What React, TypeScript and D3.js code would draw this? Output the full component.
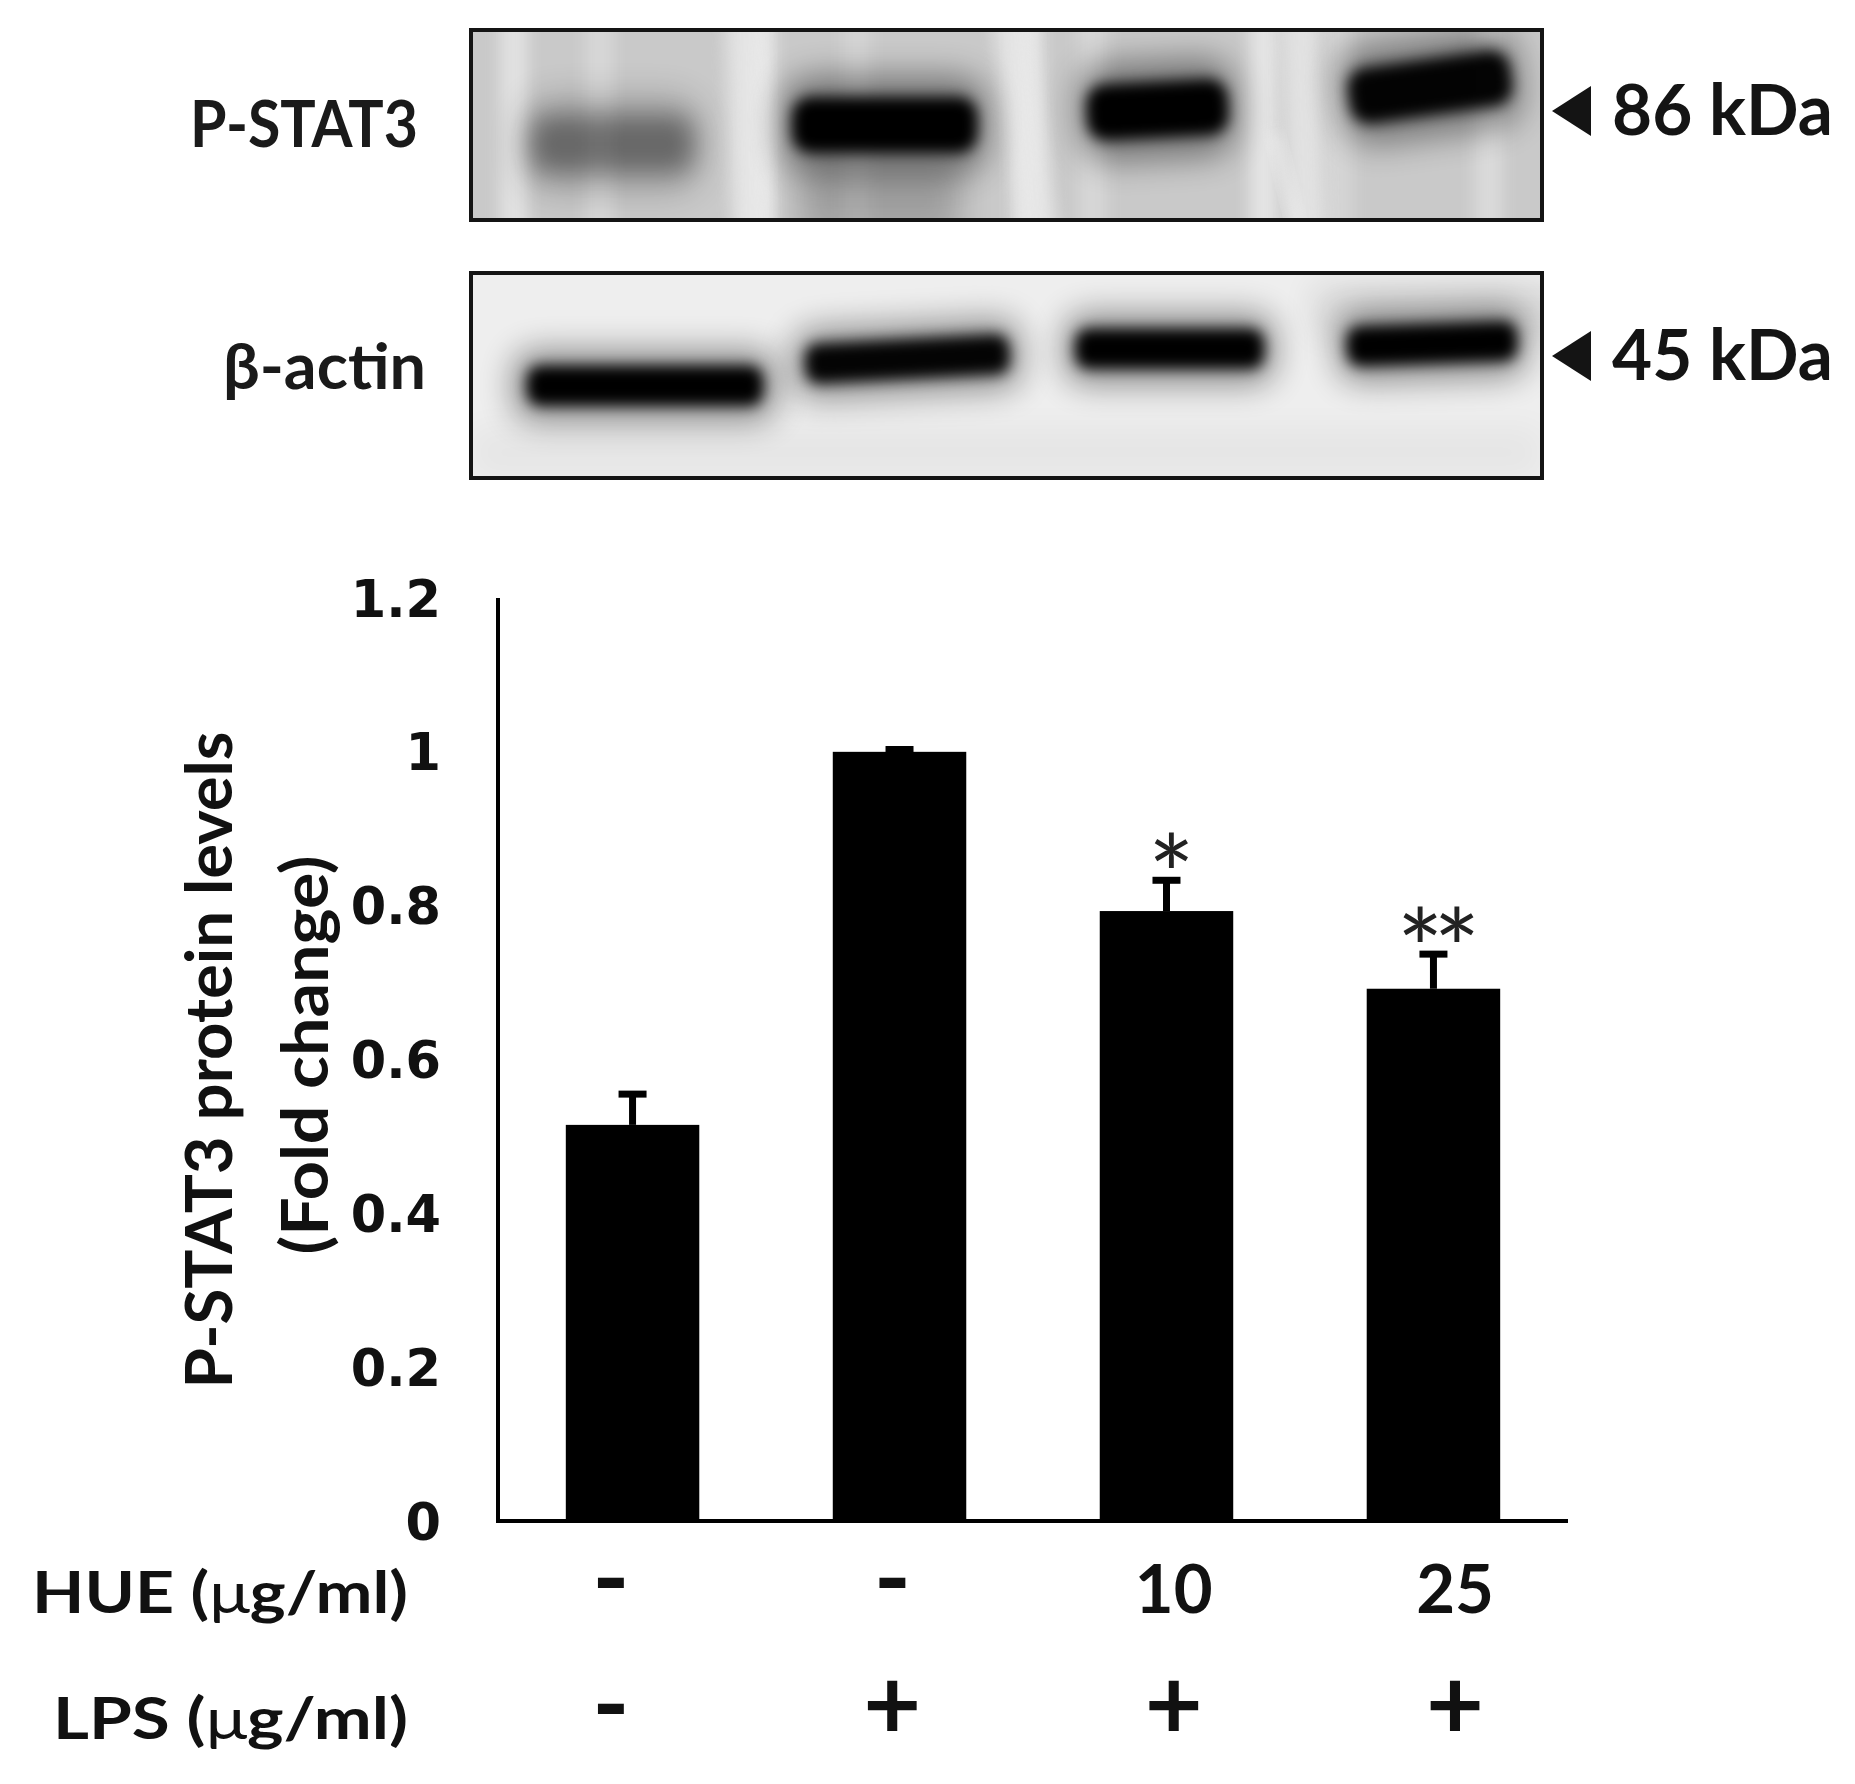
import { useRef, useEffect } from 'react';
import * as d3 from 'd3';

const WIDTH = 1855;
const HEIGHT = 1784;

// Treatment groups, one blot lane / one bar each
const groups = ['control', 'lps', 'hue10', 'hue25'];
const hueLabels = ['-', '-', '10', '25'];
const lpsLabels = ['-', '+', '+', '+'];

// Densitometry of P-STAT3 (fold change vs LPS alone)
const pstat3Levels = [0.515, 1.0, 0.793, 0.692];
const pstat3Errors = [0.04, 0.003, 0.04, 0.045];
const significance = ['', '', '*', '**'];
const yTicks = [0, 0.2, 0.4, 0.6, 0.8, 1, 1.2];

// Blot bands: darkness (0-1), migration (fraction of strip height),
// spread (fraction of lane step) and tilt in degrees
const pstat3Darkness = [0.45, 1, 1, 0.97];
const pstat3Migration = [0.6, 0.5, 0.42, 0.3];
const pstat3Spread = [0.6, 0.68, 0.52, 0.6];
const pstat3Tilt = [0, 0, -3, -8];
const actinDarkness = [1, 0.97, 1, 1];
const actinMigration = [0.55, 0.42, 0.37, 0.345];
const actinSpread = [0.9, 0.78, 0.72, 0.65];
const actinTilt = [0, -3, 0, -2];

// faint vertical streaks in the P-STAT3 membrane (fraction of strip width)
const streakPos = [0.04, 0.12, 0.27, 0.36, 0.52, 0.58, 0.74, 0.81, 0.95];
const streakTone = [0.7, 0.4, 0.9, 0.3, 0.85, 0.4, 0.8, 0.35, 0.5];

export default function App() {
  const svgRef = useRef<SVGSVGElement>(null);

  useEffect(() => {
    if (!svgRef.current) return;
    const svg = d3.select(svgRef.current);
    svg.selectAll('*').remove();
    const defs = svg.append('defs');

    const blurs: [string, number][] = [
      ['blur-band', 7],
      ['blur-faint', 12],
      ['blur-soft', 16],
      ['blur-streak', 8],
    ];
    blurs.forEach(([id, sd]) => {
      defs.append('filter')
        .attr('id', id)
        .attr('x', '-50%').attr('y', '-50%')
        .attr('width', '200%').attr('height', '200%')
        .append('feGaussianBlur')
        .attr('stdDeviation', sd);
    });

    const labelFont = 'Lato, "Open Sans", sans-serif';
    const blotX0 = 471;
    const blotX1 = 1542;

    // ---- blot strip helper ----
    const drawStrip = (
      id: string,
      y0: number,
      y1: number,
      laneRange: [number, number],
      darkness: number[],
      migration: number[],
      spread: number[],
      tilt: number[],
      bandH: number,
      background: string,
      decorate: (g: d3.Selection<SVGGElement, unknown, null, undefined>, lane: d3.ScalePoint<string>, ry: d3.ScaleLinear<number, number>) => void,
    ) => {
      const lane = d3.scalePoint<string>().domain(groups).range(laneRange);
      const step = lane.step();
      const ry = d3.scaleLinear().domain([0, 1]).range([y0, y1]);

      defs.append('clipPath')
        .attr('id', `clip-${id}`)
        .append('rect')
        .attr('x', blotX0).attr('y', y0)
        .attr('width', blotX1 - blotX0).attr('height', y1 - y0);

      const g = svg.append('g').attr('clip-path', `url(#clip-${id})`);
      g.append('rect')
        .attr('x', blotX0).attr('y', y0)
        .attr('width', blotX1 - blotX0).attr('height', y1 - y0)
        .attr('fill', background);

      decorate(g, lane, ry);

      groups.forEach((key, i) => {
        const cx = lane(key) ?? 0;
        const cy = ry(migration[i]);
        const w = spread[i] * step;
        const faint = darkness[i] < 0.6;
        const band = g.append('g').attr('transform', `rotate(${tilt[i]}, ${cx}, ${cy})`);
        band.append('rect')
          .attr('x', cx - w * 0.56).attr('y', cy - bandH * 0.9)
          .attr('width', w * 1.12).attr('height', bandH * 1.8)
          .attr('rx', bandH * 0.6)
          .attr('fill', '#000')
          .attr('opacity', darkness[i] * 0.4)
          .attr('filter', 'url(#blur-soft)');
        band.append('rect')
          .attr('x', cx - w / 2).attr('y', cy - bandH / 2)
          .attr('width', w).attr('height', bandH)
          .attr('rx', bandH * 0.35)
          .attr('fill', '#000')
          .attr('opacity', faint ? darkness[i] * 0.8 : darkness[i])
          .attr('filter', faint ? 'url(#blur-faint)' : 'url(#blur-band)');
      });

      svg.append('rect')
        .attr('x', blotX0).attr('y', y0)
        .attr('width', blotX1 - blotX0).attr('height', y1 - y0)
        .attr('fill', 'none')
        .attr('stroke', '#141414')
        .attr('stroke-width', 4);
    };

    // P-STAT3 strip
    drawStrip('pstat3', 30, 220, [612, 1430], pstat3Darkness, pstat3Migration, pstat3Spread, pstat3Tilt, 56, '#c9c9c9',
      (g, lane, ry) => {
        const sx = d3.scaleLinear().domain([0, 1]).range([blotX0, blotX1]);
        streakPos.forEach((p, i) => {
          g.append('rect')
            .attr('x', sx(p) - 14).attr('y', ry(-0.1))
            .attr('width', 28).attr('height', ry(1.2) - ry(-0.1))
            .attr('fill', '#ececec')
            .attr('opacity', streakTone[i])
            .attr('filter', 'url(#blur-streak)');
        });
        const gaps = d3.pairs(groups.map(k => lane(k) ?? 0)).map(([a, b]) => (a + b) / 2);
        gaps.forEach((gx, i) => {
          g.append('rect')
            .attr('x', gx - 20 + i * 6).attr('y', ry(-0.1))
            .attr('width', 36).attr('height', ry(1.2) - ry(-0.1))
            .attr('fill', '#e8e8e8')
            .attr('opacity', 0.8)
            .attr('transform', `rotate(${i === 1 ? -8 : -2}, ${gx}, ${ry(0.5)})`)
            .attr('filter', 'url(#blur-streak)');
        });
        // smear under the LPS lane
        const c2 = lane('lps') ?? 0;
        g.append('rect')
          .attr('x', c2 - 85).attr('y', ry(0.68))
          .attr('width', 160).attr('height', ry(1.1) - ry(0.68))
          .attr('fill', '#000').attr('opacity', 0.2)
          .attr('filter', 'url(#blur-soft)');
        const c4 = lane('hue25') ?? 0;
        g.append('rect')
          .attr('x', c4 - 150).attr('y', ry(0.55))
          .attr('width', 12).attr('height', ry(1.1) - ry(0.55))
          .attr('fill', '#efefef').attr('opacity', 0.7)
          .attr('transform', `rotate(-14, ${c4 - 150}, ${ry(0.8)})`)
          .attr('filter', 'url(#blur-band)');
      });

    // beta-actin strip
    drawStrip('actin', 273, 478, [645, 1432], actinDarkness, actinMigration, actinSpread, actinTilt, 40, '#eeeeee',
      (g, lane, ry) => {
        const c4 = lane('hue25') ?? 0;
        g.append('rect')
          .attr('x', c4 - 120).attr('y', ry(0.05))
          .attr('width', 260).attr('height', ry(0.3) - ry(0.05))
          .attr('fill', '#000').attr('opacity', 0.08)
          .attr('filter', 'url(#blur-soft)');
        g.append('rect')
          .attr('x', blotX0).attr('y', ry(0.75))
          .attr('width', blotX1 - blotX0).attr('height', ry(1) - ry(0.75))
          .attr('fill', '#000').attr('opacity', 0.03)
          .attr('filter', 'url(#blur-soft)');
      });

    // strip labels and size markers
    svg.append('text')
      .attr('x', 190).attr('y', 147)
      .attr('font-family', labelFont).attr('font-weight', 700)
      .attr('font-size', 65).attr('fill', '#1a1a1a')
      .attr('textLength', 228).attr('lengthAdjust', 'spacingAndGlyphs')
      .text('P-STAT3');
    svg.append('text')
      .attr('x', 223).attr('y', 389)
      .attr('font-family', labelFont).attr('font-weight', 700)
      .attr('font-size', 64).attr('fill', '#1a1a1a')
      .attr('textLength', 203).attr('lengthAdjust', 'spacingAndGlyphs')
      .text('β-actin');

    const markers: [string, number][] = [['86 kDa', 135], ['45 kDa', 380]];
    markers.forEach(([label, base]) => {
      const cy = base - 24;
      svg.append('path')
        .attr('d', `M1552,${cy} L1591,${cy - 25} L1591,${cy + 25} Z`)
        .attr('fill', '#141414');
      svg.append('text')
        .attr('x', 1612).attr('y', base)
        .attr('font-family', labelFont).attr('font-weight', 700)
        .attr('font-size', 71).attr('fill', '#141414')
        .attr('textLength', 221).attr('lengthAdjust', 'spacingAndGlyphs')
        .text(label);
    });

    // ---- bar chart ----
    const x = d3.scaleBand<string>()
      .domain(groups)
      .range([498, 1568])
      .paddingInner(0.5)
      .paddingOuter(0.254);
    const y = d3.scaleLinear().domain([0, 1.2]).range([1521, 598]);

    const chart = svg.append('g');

    chart.selectAll('.bar')
      .data(groups)
      .join('rect')
      .attr('class', 'bar')
      .attr('x', d => x(d) ?? 0)
      .attr('y', (_, i) => y(pstat3Levels[i]))
      .attr('width', x.bandwidth())
      .attr('height', (_, i) => y(0) - y(pstat3Levels[i]))
      .attr('fill', '#000');

    // error bars (upper only) and significance marks
    groups.forEach((key, i) => {
      const cx = (x(key) ?? 0) + x.bandwidth() / 2;
      const top = y(pstat3Levels[i] + pstat3Errors[i]);
      chart.append('line')
        .attr('x1', cx).attr('x2', cx)
        .attr('y1', y(pstat3Levels[i])).attr('y2', top)
        .attr('stroke', '#000').attr('stroke-width', 7);
      chart.append('line')
        .attr('x1', cx - 14).attr('x2', cx + 14)
        .attr('y1', top).attr('y2', top)
        .attr('stroke', '#000').attr('stroke-width', 7);
      if (significance[i]) {
        chart.append('text')
          .attr('x', cx).attr('y', top + 36)
          .attr('text-anchor', 'middle')
          .attr('font-family', labelFont).attr('font-weight', 400)
          .attr('font-size', 110).attr('fill', '#222')
          .attr('letter-spacing', -10)
          .text(significance[i]);
      }
    });

    // axes
    chart.append('line')
      .attr('x1', 498).attr('x2', 498)
      .attr('y1', y(1.2)).attr('y2', y(0) + 2)
      .attr('stroke', '#000').attr('stroke-width', 4);
    chart.append('line')
      .attr('x1', 496).attr('x2', 1568)
      .attr('y1', y(0)).attr('y2', y(0))
      .attr('stroke', '#000').attr('stroke-width', 4);

    chart.selectAll('.tick-label')
      .data(yTicks)
      .join('text')
      .attr('class', 'tick-label')
      .attr('x', 441)
      .attr('y', d => y(d) + 18.5)
      .attr('text-anchor', 'end')
      .attr('font-family', '"DejaVu Sans", Verdana, sans-serif')
      .attr('font-weight', 700)
      .attr('font-size', 51)
      .attr('fill', '#111')
      .text(d => String(d));

    // y axis title (two lines)
    const titleLines: [string, number, number, number][] = [
      ['P-STAT3 protein levels', 232, 1060, 657],
      ['(Fold change)', 328, 1055, 399],
    ];
    titleLines.forEach(([t, tx, ty, len]) => {
      chart.append('text')
        .attr('transform', `translate(${tx}, ${ty}) rotate(-90)`)
        .attr('text-anchor', 'middle')
        .attr('font-family', labelFont).attr('font-weight', 700)
        .attr('font-size', 65).attr('fill', '#111')
        .attr('textLength', len).attr('lengthAdjust', 'spacingAndGlyphs')
        .text(t);
    });

    // treatment table under the bars
    const col = d3.scalePoint<string>().domain(groups).range([611, 1455]);
    const rows: [string, string[], number, number][] = [
      ['HUE', hueLabels, 1613, 376],
      ['LPS', lpsLabels, 1739, 355],
    ];
    rows.forEach(([name, labels, base, len]) => {
      const t = chart.append('text')
        .attr('x', 408).attr('y', base)
        .attr('text-anchor', 'end')
        .attr('font-family', labelFont).attr('font-weight', 700)
        .attr('font-size', 58).attr('fill', '#111')
        .attr('textLength', len).attr('lengthAdjust', 'spacingAndGlyphs');
      t.append('tspan').text(`${name} (`);
      t.append('tspan').attr('font-weight', 400).text('μ');
      t.append('tspan').text('g/ml)');

      labels.forEach((l, i) => {
        const sym = l === '-' || l === '+';
        chart.append('text')
          .attr('x', col(groups[i]) ?? 0).attr('y', base)
          .attr('text-anchor', 'middle')
          .attr('font-family', labelFont).attr('font-weight', 700)
          .attr('font-size', sym ? 100 : 67).attr('fill', '#111')
          .text(l);
      });
    });
  }, []);

  return (
    <svg
      ref={svgRef}
      width={WIDTH}
      height={HEIGHT}
      style={{ position: 'absolute', left: 0, top: 0, background: '#fff' }}
    />
  );
}
